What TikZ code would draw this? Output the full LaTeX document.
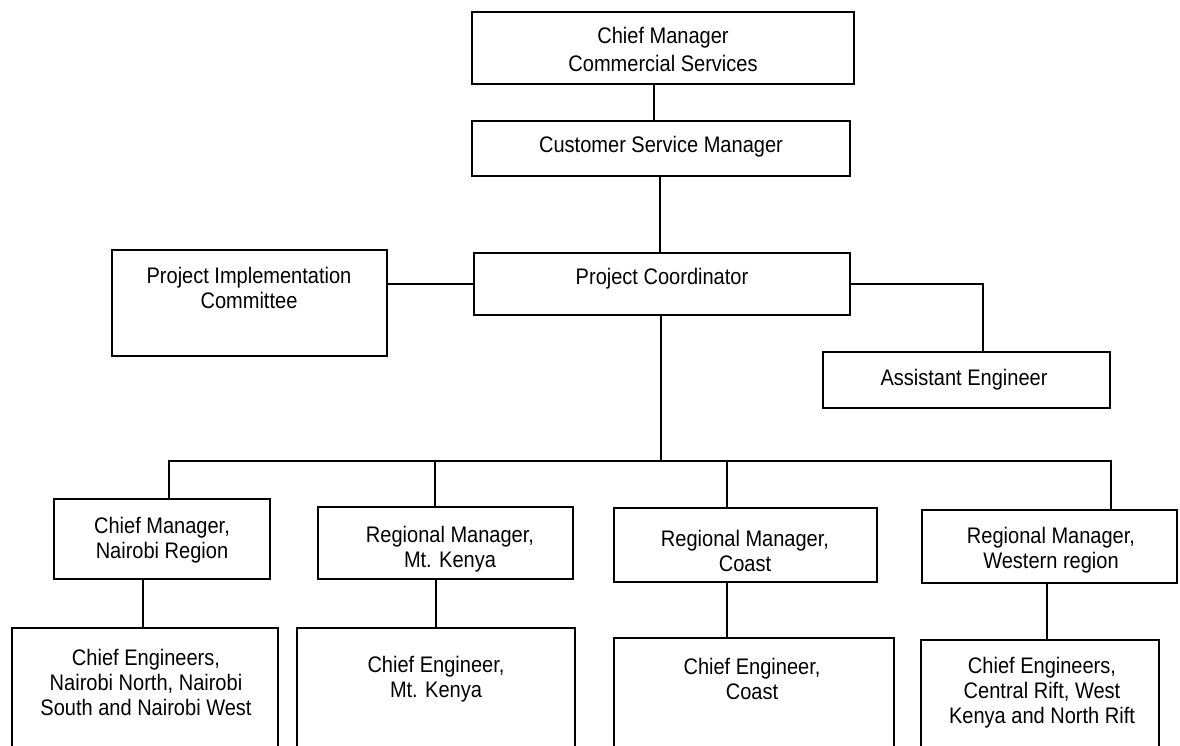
\documentclass[tikz,border=0pt]{standalone}
\usepackage{fontspec}
\setmainfont{Liberation Sans}[FakeStretch=0.89]
\usetikzlibrary{calc}
\begin{document}
\begin{tikzpicture}[x=1pt,y=-1pt,
  box/.style={draw=black,line width=1.5pt,rectangle,inner sep=0pt,outer sep=0pt,anchor=north west},
  txt/.style={align=center,inner sep=0pt,font=\fontsize{22.5}{25}\selectfont},
  txtw/.style={align=center,inner sep=0pt,font=\fontsize{22.5}{28}\selectfont},
  conn/.style={draw=black,line width=1.5pt}]
\useasboundingbox (0,0) rectangle (1180,746);
\clip (0,0) rectangle (1180,746);
% boxes (x, y of top-left corner)
\node[box,minimum width=382pt,minimum height=72pt] (top) at (472,12) {};
\node[box,minimum width=378pt,minimum height=55pt] (csm) at (472,121) {};
\node[box,minimum width=376pt,minimum height=62pt] (pc) at (474,253) {};
\node[box,minimum width=275pt,minimum height=106pt] (pic) at (112,250) {};
\node[box,minimum width=287pt,minimum height=56pt] (ae) at (823,352) {};
\node[box,minimum width=216pt,minimum height=80pt] (nai) at (54,499) {};
\node[box,minimum width=255pt,minimum height=72pt] (mtk) at (318,507) {};
\node[box,minimum width=263pt,minimum height=74pt] (coast) at (614,508) {};
\node[box,minimum width=255pt,minimum height=73pt] (west) at (922,510) {};
\node[box,minimum width=266pt,minimum height=140pt] (naiE) at (12,628) {};
\node[box,minimum width=278pt,minimum height=140pt] (mtkE) at (297,628) {};
\node[box,minimum width=280pt,minimum height=140pt] (coastE) at (614,638) {};
\node[box,minimum width=238pt,minimum height=140pt] (westE) at (921,640) {};
% texts
\node[txtw] (ttop) at (663,49) {Chief Manager\\Commercial Services};
\node[txt] (tcsm) at (661,147) {Customer Service Manager};
\node[txt] (tpc) at (662,279) {Project Coordinator};
\node[txt] (tpic) at (249,288) {Project Implementation\\Committee};
\node[txt] (tae) at (964,380) {Assistant Engineer};
\node[txt] (tnai) at (162,540) {Chief Manager,\\Nairobi Region};
\node[txt] (tmtk) at (450,549) {Regional Manager,\\Mt. Kenya};
\node[txt] (tcoast) at (745,551) {Regional Manager,\\Coast};
\node[txt] (twest) at (1051,550) {Regional Manager,\\Western region};
\node[txt] (tnaiE) at (146,682) {Chief Engineers,\\Nairobi North, Nairobi\\South and Nairobi West};
\node[txt] (tmtkE) at (436,679) {Chief Engineer,\\Mt. Kenya};
\node[txt] (tcoastE) at (752,679) {Chief Engineer,\\Coast};
\node[txt] (twestE) at (1042,693) {Chief Engineers,\\Central Rift, West\\Kenya and North Rift};
% connectors
\coordinate (bus) at (661,461);
\draw[conn] ([xshift=-9pt]top.south) -- ([xshift=-9pt]top.south |- csm.north);
\draw[conn] ([xshift=-1pt]csm.south) -- ([xshift=-1pt]csm.south |- pc.north);
\draw[conn] (pc.west) -- (pc.west -| pic.east);
\draw[conn] (pc.east) -| ([xshift=16.5pt]ae.north);
\draw[conn] ([xshift=-1pt]pc.south) -- ([xshift=-1pt]pc.south |- bus);
\draw[conn] ([xshift=7pt]nai.north) |- (bus) -| ([xshift=61.5pt]west.north);
\draw[conn] ([xshift=-10.75pt]mtk.north) -- ([xshift=-10.75pt]mtk.north |- bus);
\draw[conn] ([xshift=-18.5pt]coast.north) -- ([xshift=-18.5pt]coast.north |- bus);
\draw[conn] ([xshift=-19pt]nai.south) -- ([xshift=-19pt]nai.south |- naiE.north);
\draw[conn] ([xshift=-9.5pt]mtk.south) -- ([xshift=-9.5pt]mtk.south |- mtkE.north);
\draw[conn] ([xshift=-18.5pt]coast.south) -- ([xshift=-18.5pt]coast.south |- coastE.north);
\draw[conn] ([xshift=-2.5pt]west.south) -- ([xshift=-2.5pt]west.south |- westE.north);
\end{tikzpicture}
\end{document}
